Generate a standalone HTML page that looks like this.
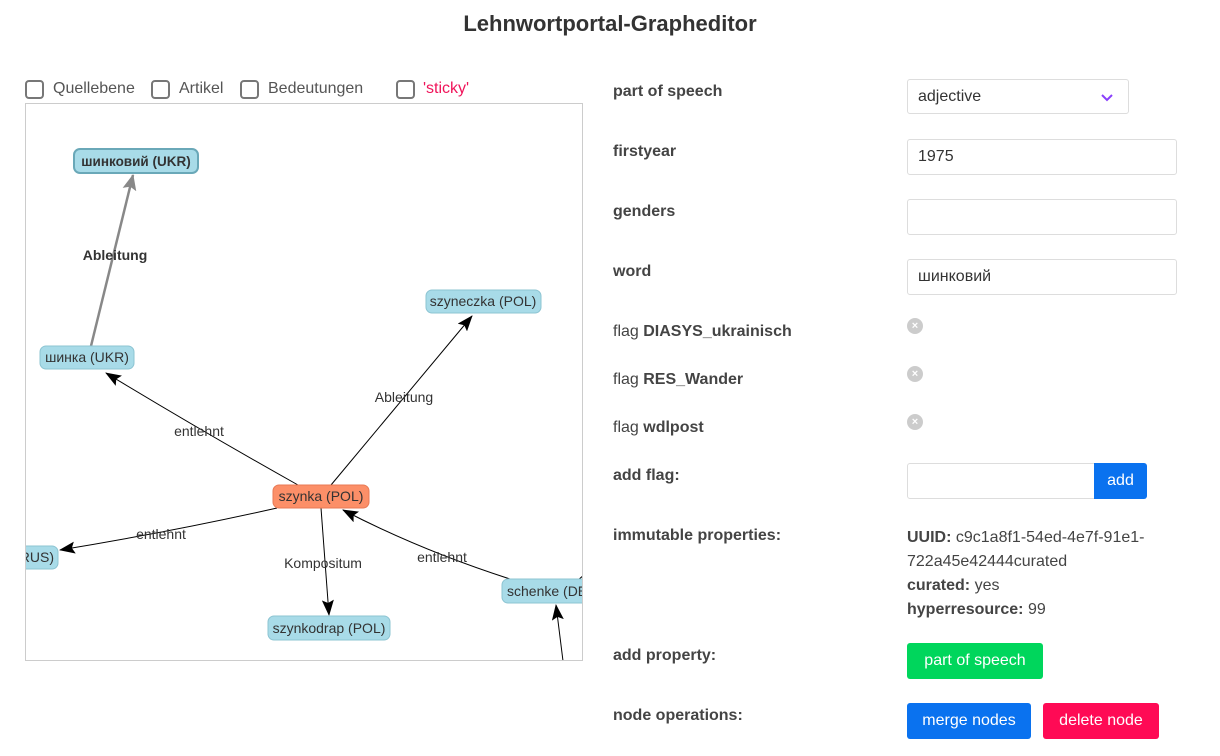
<!DOCTYPE html>
<html><head><meta charset="utf-8"><style>
body{margin:0;width:1220px;height:756px;background:#fff;font-family:"Liberation Sans","DejaVu Sans",sans-serif;color:#444;position:relative;overflow:hidden}
.a{position:absolute;white-space:nowrap}
.lbl{font-size:16px;font-weight:bold;color:#444}
.cb{position:absolute;width:19px;height:19px;border:2px solid #777;border-radius:4px;box-sizing:border-box;top:80px}
.inp{position:absolute;left:907px;width:270px;height:36px;border:1px solid #ddd;border-radius:3px;box-sizing:border-box;font-size:16px;padding:8px 10px;color:#333}
.x{position:absolute;left:907px;width:16px;height:16px;border-radius:50%;background:#ccc;color:#fff;font-size:11px;line-height:16px;text-align:center;font-weight:bold}
.btn{position:absolute;color:#fff;font-size:16px;text-align:center;border-radius:3px;height:36px;line-height:36px}
</style></head><body>
<div class="a" style="left:0;width:1220px;text-align:center;top:11px;font-size:22px;font-weight:bold;color:#333">Lehnwortportal-Grapheditor</div>

<div class="cb" style="left:25px"></div><div class="a" style="left:53px;top:80px;font-size:16px;color:#555">Quellebene</div>
<div class="cb" style="left:151px"></div><div class="a" style="left:179px;top:80px;font-size:16px;color:#555">Artikel</div>
<div class="cb" style="left:240px"></div><div class="a" style="left:268px;top:80px;font-size:16px;color:#555">Bedeutungen</div>
<div class="cb" style="left:396px"></div><div class="a" style="left:423px;top:80px;font-size:16px;color:#f0145a">'sticky'</div>

<svg class="a" style="left:0;top:0" width="1220" height="756">
<defs>
<clipPath id="c"><rect x="26" y="104" width="556" height="556"/></clipPath>
<marker id="m" markerWidth="16" markerHeight="12" refX="15" refY="6" orient="auto" markerUnits="userSpaceOnUse"><path d="M0,0 L16,6 L0,12 L3,6 z" fill="#000"/></marker>
<marker id="mg" markerWidth="16" markerHeight="14" refX="15" refY="7" orient="auto" markerUnits="userSpaceOnUse"><path d="M0,0 L16,7 L0,14 L3,7 z" fill="#888"/></marker>
</defs>
<rect x="25.5" y="103.5" width="557" height="557" fill="none" stroke="#ccc"/>
<g clip-path="url(#c)" font-family="Liberation Sans, DejaVu Sans, sans-serif" font-size="14" fill="#333">
<path d="M91,346 Q105,290 133,175" stroke="#888" stroke-width="2.5" fill="none" marker-end="url(#mg)"/>
<path d="M298,485 Q200,430 106,373" stroke="#000" fill="none" marker-end="url(#m)"/>
<path d="M331,485 L472,316" stroke="#000" fill="none" marker-end="url(#m)"/>
<path d="M277,508 Q170,532 60,550" stroke="#000" fill="none" marker-end="url(#m)"/>
<path d="M321,508 L329,615" stroke="#000" fill="none" marker-end="url(#m)"/>
<path d="M510,579 Q420,550 343,510" stroke="#000" fill="none" marker-end="url(#m)"/>
<path d="M563,661 L556,605" stroke="#000" fill="none" marker-end="url(#m)"/>
<path d="M578,580 L590,570" stroke="#000" fill="none"/>
<text x="115" y="260" text-anchor="middle" font-weight="bold">Ableitung</text>
<text x="199" y="436" text-anchor="middle">entlehnt</text>
<text x="404" y="402" text-anchor="middle">Ableitung</text>
<text x="161" y="539" text-anchor="middle">entlehnt</text>
<text x="323" y="568" text-anchor="middle">Kompositum</text>
<text x="442" y="562" text-anchor="middle">entlehnt</text>
<rect x="74" y="149" width="124" height="24" rx="6" fill="#a8dbe8" stroke="#6aa8b8" stroke-width="2"/>
<text x="136" y="166" text-anchor="middle" font-weight="bold" font-size="13.5">шинковий (UKR)</text>
<rect x="426" y="290" width="115" height="23" rx="6" fill="#a8dbe8" stroke="#8cc4d2"/>
<text x="483" y="306" text-anchor="middle">szyneczka (POL)</text>
<rect x="40" y="346" width="94" height="23" rx="6" fill="#a8dbe8" stroke="#8cc4d2"/>
<text x="87" y="362" text-anchor="middle">шинка (UKR)</text>
<rect x="273" y="485" width="96" height="23" rx="6" fill="#fc8f68" stroke="#e87a55"/>
<text x="321" y="501" text-anchor="middle">szynka (POL)</text>
<rect x="-40" y="546" width="98" height="23" rx="6" fill="#a8dbe8" stroke="#8cc4d2"/>
<text x="54" y="562" text-anchor="end">(RUS)</text>
<rect x="268" y="616" width="122" height="24" rx="6" fill="#a8dbe8" stroke="#8cc4d2"/>
<text x="329" y="633" text-anchor="middle">szynkodrap (POL)</text>
<rect x="502" y="579" width="110" height="24" rx="6" fill="#a8dbe8" stroke="#8cc4d2"/>
<text x="507" y="596">schenke (DE)</text>
</g>
</svg>

<div class="a lbl" style="left:613px;top:83px">part of speech</div>
<div class="a" style="left:907px;top:79px;width:222px;height:35px;border:1px solid #ddd;border-radius:3px;box-sizing:border-box;font-size:16px;padding:8px 10px;color:#333">adjective<svg style="position:absolute;right:14px;top:13px" width="14" height="9"><path d="M2,2 L7,7 L12,2" stroke="#8a3ffc" stroke-width="2" fill="none"/></svg></div>
<div class="a lbl" style="left:613px;top:143px">firstyear</div>
<div class="inp" style="top:139px">1975</div>
<div class="a lbl" style="left:613px;top:203px">genders</div>
<div class="inp" style="top:199px"></div>
<div class="a lbl" style="left:613px;top:263px">word</div>
<div class="inp" style="top:259px">шинковий</div>
<div class="a" style="left:613px;top:323px;font-size:16px">flag <b>DIASYS_ukrainisch</b></div>
<div class="x" style="top:318px">×</div>
<div class="a" style="left:613px;top:371px;font-size:16px">flag <b>RES_Wander</b></div>
<div class="x" style="top:366px">×</div>
<div class="a" style="left:613px;top:419px;font-size:16px">flag <b>wdlpost</b></div>
<div class="x" style="top:414px">×</div>
<div class="a lbl" style="left:613px;top:467px">add flag:</div>
<div class="a" style="left:907px;top:463px;width:188px;height:36px;border:1px solid #ddd;border-radius:3px 0 0 3px;box-sizing:border-box"></div>
<div class="btn" style="left:1094px;top:463px;width:53px;background:#0a72ef;border-radius:0 3px 3px 0">add</div>
<div class="a lbl" style="left:613px;top:527px">immutable properties:</div>
<div class="a" style="left:907px;top:526px;font-size:16px;line-height:24px;white-space:normal;width:280px"><b>UUID:</b> c9c1a8f1-54ed-4e7f-91e1-<br>722a45e42444curated<br><b>curated:</b> yes<br><b>hyperresource:</b> 99</div>
<div class="a lbl" style="left:613px;top:647px">add property:</div>
<div class="btn" style="left:907px;top:643px;width:136px;background:#00d65c">part of speech</div>
<div class="a lbl" style="left:613px;top:707px">node operations:</div>
<div class="btn" style="left:907px;top:703px;width:124px;background:#0a72ef">merge nodes</div>
<div class="btn" style="left:1043px;top:703px;width:116px;background:#ff0a55">delete node</div>
</body></html>
